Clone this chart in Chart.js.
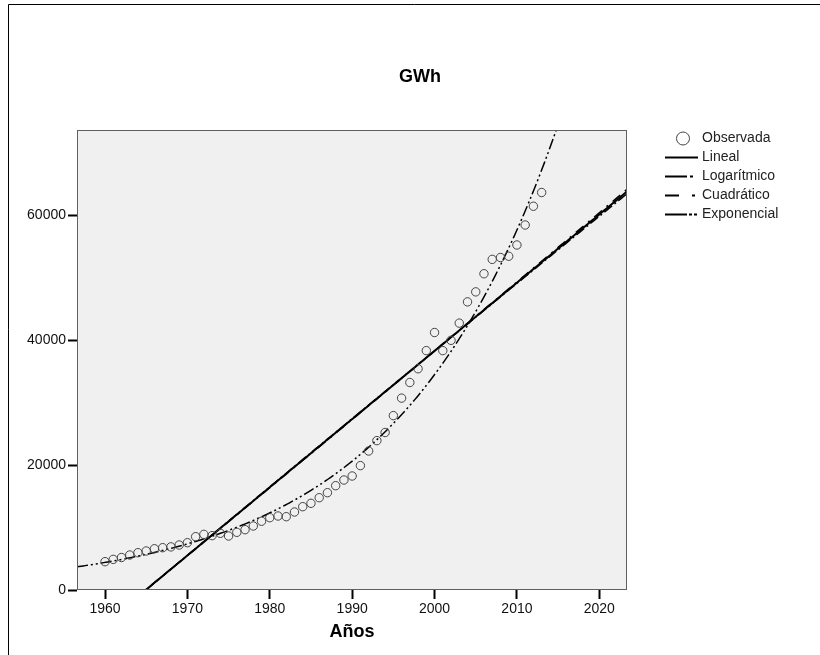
<!DOCTYPE html>
<html>
<head>
<meta charset="utf-8">
<title>GWh</title>
<script src="https://cdn.jsdelivr.net/npm/chart.js@4.4.1/dist/chart.umd.min.js"></script>
<style>
  html, body { margin: 0; padding: 0; background: #fff; }
  #wrap { width: 820px; height: 655px; }
</style>
</head>
<body>
<div id="wrap"><canvas id="chart" width="820" height="655"></canvas></div>
<script>
const years = [
  1960, 1961, 1962, 1963, 1964, 1965, 1966, 1967, 1968, 1969,
  1970, 1971, 1972, 1973, 1974, 1975, 1976, 1977, 1978, 1979,
  1980, 1981, 1982, 1983, 1984, 1985, 1986, 1987, 1988, 1989,
  1990, 1991, 1992, 1993, 1994, 1995, 1996, 1997, 1998, 1999,
  2000, 2001, 2002, 2003, 2004, 2005, 2006, 2007, 2008, 2009,
  2010, 2011, 2012, 2013
];
const gwh = [
  4530, 4900, 5200, 5600, 5970, 6240, 6600, 6770, 6900, 7200,
  7570, 8530, 8900, 8700, 9070, 8640, 9230, 9650, 10240, 11000,
  11570, 11840, 11730, 12480, 13330, 13870, 14770, 15570, 16690, 17600,
  18240, 19900, 22240, 23900, 25200, 27900, 30700, 33200, 35400, 38300,
  41200, 38300, 39950, 42700, 46100, 47700, 50600, 52900, 53200, 53400,
  55200, 58400, 61400, 63600
];
const xTicks = [1960, 1970, 1980, 1990, 2000, 2010, 2020];
const yTicks = [0, 20000, 40000, 60000];
const xMin = 1956.6, xMax = 2023.36;
const yMin = 0, yMax = 73600;

const FONT = '"Liberation Sans", Arial, sans-serif';

// least squares y = a + b*x
function ols(xs, ys) {
  const n = xs.length;
  const mx = xs.reduce((s, v) => s + v, 0) / n;
  const my = ys.reduce((s, v) => s + v, 0) / n;
  let sxy = 0, sxx = 0;
  for (let i = 0; i < n; i++) {
    sxy += (xs[i] - mx) * (ys[i] - my);
    sxx += (xs[i] - mx) * (xs[i] - mx);
  }
  const b = sxy / sxx;
  return { a: my - b * mx, b: b };
}

const lin = ols(years, gwh);
const lg = ols(years.map(Math.log), gwh);
// SPSS drops the linear term here (t and t^2 collinear), so only t^2 is kept
const quad = ols(years.map(t => t * t), gwh);
const ex = ols(years, gwh.map(Math.log));

const fitX = [];
for (let t = xMin; t <= xMax + 1e-9; t += 0.25) fitX.push(t);

function curve(f) {
  return fitX.map(t => ({ x: t, y: f(t) }));
}

const lineBase = { pointRadius: 0, borderColor: '#000', fill: false, tension: 0 };

const datasets = [
  {
    label: 'Observada',
    data: years.map((t, i) => ({ x: t, y: gwh[i] })),
    showLine: false,
    pointRadius: 4.2,
    pointBorderWidth: 1,
    pointBorderColor: '#444',
    pointBackgroundColor: 'rgba(0,0,0,0)'
  },
  Object.assign({ label: 'Lineal', data: curve(t => lin.a + lin.b * t), borderWidth: 2 }, lineBase),
  Object.assign({ label: 'Logarítmico', data: curve(t => lg.a + lg.b * Math.log(t)), borderWidth: 1.5, borderDash: [10, 3, 2, 3] }, lineBase),
  Object.assign({ label: 'Cuadrático', data: curve(t => quad.a + quad.b * t * t), borderWidth: 1.5, borderDash: [10, 6, 2, 6] }, lineBase),
  Object.assign({ label: 'Exponencial', data: curve(t => Math.exp(ex.a + ex.b * t)), borderWidth: 1.5, borderDash: [11, 3, 2, 3, 2, 3] }, lineBase)
];

// dash patterns used for the legend samples
const legendDash = [null, [], [22, 3, 3, 40], [14, 13, 3, 40], [22, 2, 3, 2, 3, 40]];

const decor = {
  id: 'decor',
  beforeDraw(chart) {
    const { ctx, chartArea: a } = chart;
    ctx.save();
    ctx.fillStyle = '#f0f0f0';
    ctx.fillRect(a.left, a.top, a.right - a.left, a.bottom - a.top);
    ctx.restore();
  },
  afterDraw(chart) {
    const { ctx, chartArea: a } = chart;
    ctx.save();
    ctx.strokeStyle = '#606060';
    ctx.lineWidth = 1;
    ctx.strokeRect(a.left + 0.5, a.top + 0.5, a.right - a.left - 1, a.bottom - a.top - 1);

    ctx.strokeStyle = '#000';
    ctx.beginPath();
    ctx.moveTo(8.5, 655);
    ctx.lineTo(8.5, 4.5);
    ctx.lineTo(820, 4.5);
    ctx.stroke();

    ctx.fillStyle = '#000';
    ctx.font = 'bold 18px ' + FONT;
    ctx.textAlign = 'center';
    ctx.textBaseline = 'middle';
    ctx.fillText('GWh', 420, 77);

    // legend
    ctx.font = '14px ' + FONT;
    ctx.textAlign = 'left';
    chart.data.datasets.forEach((ds, i) => {
      const y = 138.5 + i * 19;
      if (i === 0) {
        ctx.setLineDash([]);
        ctx.strokeStyle = '#444';
        ctx.lineWidth = 1;
        ctx.beginPath();
        ctx.arc(683, y, 6.5, 0, Math.PI * 2);
        ctx.stroke();
      } else {
        ctx.setLineDash(legendDash[i]);
        ctx.strokeStyle = '#000';
        ctx.lineWidth = 2;
        ctx.beginPath();
        ctx.moveTo(665, y);
        ctx.lineTo(698, y);
        ctx.stroke();
      }
      ctx.setLineDash([]);
      ctx.fillStyle = '#222';
      ctx.fillText(ds.label, 702, y);
    });
    ctx.restore();
  }
};

new Chart(document.getElementById('chart'), {
  type: 'line',
  data: { datasets: datasets },
  options: {
    responsive: false,
    animation: false,
    layout: { padding: { left: 20, right: 193, top: 130, bottom: 0 } },
    plugins: {
      legend: { display: false },
      title: { display: false },
      tooltip: { enabled: false }
    },
    scales: {
      x: {
        type: 'linear',
        min: xMin,
        max: xMax,
        afterBuildTicks: s => { s.ticks = xTicks.map(v => ({ value: v })); },
        afterFit: s => { s.height = 65; },
        grid: { drawOnChartArea: false, tickLength: 9, tickWidth: 2, tickColor: '#000' },
        border: { display: false },
        ticks: {
          color: '#111',
          font: { size: 14, family: FONT },
          padding: 2,
          maxRotation: 0,
          callback: v => String(v)
        },
        title: {
          display: true,
          text: 'Años',
          color: '#000',
          font: { size: 18, weight: 'bold', family: FONT },
          padding: { top: 2, bottom: 12 }
        }
      },
      y: {
        type: 'linear',
        min: yMin,
        max: yMax,
        afterBuildTicks: s => { s.ticks = yTicks.map(v => ({ value: v })); },
        afterFit: s => { s.width = 57; },
        grid: { drawOnChartArea: false, tickLength: 9, tickWidth: 2, tickColor: '#000' },
        border: { display: false },
        ticks: {
          color: '#111',
          font: { size: 14, family: FONT },
          padding: 2,
          callback: v => String(v)
        }
      }
    }
  },
  plugins: [decor]
});
</script>
</body>
</html>
